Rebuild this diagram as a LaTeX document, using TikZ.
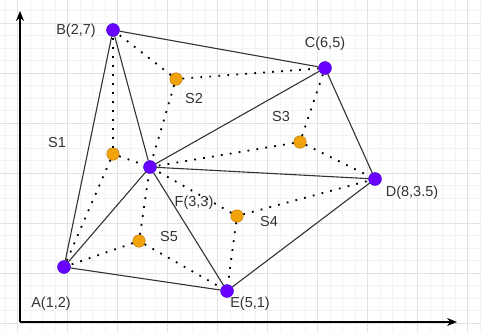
\documentclass[tikz,border=0pt]{standalone}
\usepackage{fontspec}
\setmainfont{Liberation Sans}
\usetikzlibrary{arrows.meta}

\definecolor{vtxfill}{HTML}{6A00FF}
\definecolor{vtxline}{HTML}{3700CC}
\definecolor{ctrfill}{HTML}{F0A30A}
\definecolor{ctrline}{HTML}{BD7000}
\definecolor{gridminor}{HTML}{F3F3F3}
\definecolor{gridmajor}{HTML}{E2E2E2}
\definecolor{ink}{HTML}{333333}

\tikzset{
  side/.style={draw=ink, line width=1.1pt},
  median/.style={draw=black, line width=1.8pt, dash pattern=on 1.8pt off 7.2pt},
  tag/.style={text=ink, font=\fontsize{14.5}{16}\selectfont, inner sep=0pt}
}

\begin{document}
\begin{tikzpicture}[x=1pt,y=-1pt]

      \useasboundingbox (0,0) rectangle (481,332);

      % grid
      \foreach \x in {5,17.5,...,481} \draw[gridminor, line width=.7pt] (\x,0) -- (\x,332);
      \foreach \y in {10.5,23,...,332} \draw[gridminor, line width=.7pt] (0,\y) -- (481,\y);
      \foreach \x in {17.5,67.5,...,481} \draw[gridmajor, line width=.9pt] (\x,0) -- (\x,332);
      \foreach \y in {23,73,...,332} \draw[gridmajor, line width=.9pt] (0,\y) -- (481,\y);

      % axes
      \coordinate (o)    at (20,322);
      \coordinate (ytop) at (20,11);
      \coordinate (xend) at (457,322);
      \draw[line width=1.1pt, -{Stealth[length=10pt,width=8pt]}] (o) -- (ytop);
      \draw[line width=1.1pt, -{Stealth[length=10pt,width=8pt]}] (o) -- (xend);

      \begin{scope}[every node/.style={circle, draw=vtxline, fill=vtxfill, minimum size=13pt, inner sep=0pt}]
        \node (A) at (64,267)  {};
        \node (B) at (113,30)  {};
        \node (C) at (325,68)  {};
        \node (D) at (375,179) {};
        \node (E) at (227,291) {};
        \node (F) at (150,167) {};
      \end{scope}

      \begin{scope}[every node/.style={circle, draw=ctrline, fill=ctrfill, minimum size=12.5pt, inner sep=0pt}]
        \node (s1) at (113,154) {};
        \node (s2) at (176,79)  {};
        \node (s3) at (300,142) {};
        \node (s4) at (237,216) {};
        \node (s5) at (139,241) {};
      \end{scope}

      \begin{scope}[every edge/.style={median}]
        \path (s1) edge (B) (s1) edge (F) (s1) edge (A);
        \path (s2) edge (B) (s2) edge (C) (s2) edge (F);
        \path (s3) edge (C) (s3) edge (F) (s3) edge (D);
        \path (s4) edge (F) (s4) edge (D) (s4) edge (E);
        \path (s5) edge (F) (s5) edge (A) (s5) edge (E);
      \end{scope}

      \begin{scope}[every edge/.style={side}]
        \path (B) edge (C);
        \path (B) edge (A);
        \path (B) edge (F);
        \path (C) edge (F);
        \path (C) edge (D);
        \path (F) edge (D);
        \path (F) edge (A);
        \path (F) edge (E);
        \path (A) edge (E);
        \path (E) edge (D);
      \end{scope}

      \begin{scope}[every node/.style={tag}]
        \node (lA) at (51,304)  {A(1,2)};
        \node (lB) at (76,31)   {B(2,7)};
        \node (lC) at (325,44)  {C(6,5)};
        \node (lD) at (412,193) {D(8,3.5)};
        \node (lE) at (250,304) {E(5,1)};
        \node (lF) at (194,203) {F(3,3)};
        \node (l1) at (57,143)  {S1};
        \node (l2) at (194,99)  {S2};
        \node (l3) at (281,117) {S3};
        \node (l4) at (269,222) {S4};
        \node (l5) at (169,237) {S5};
      \end{scope}

    \end{tikzpicture}
\end{document}
